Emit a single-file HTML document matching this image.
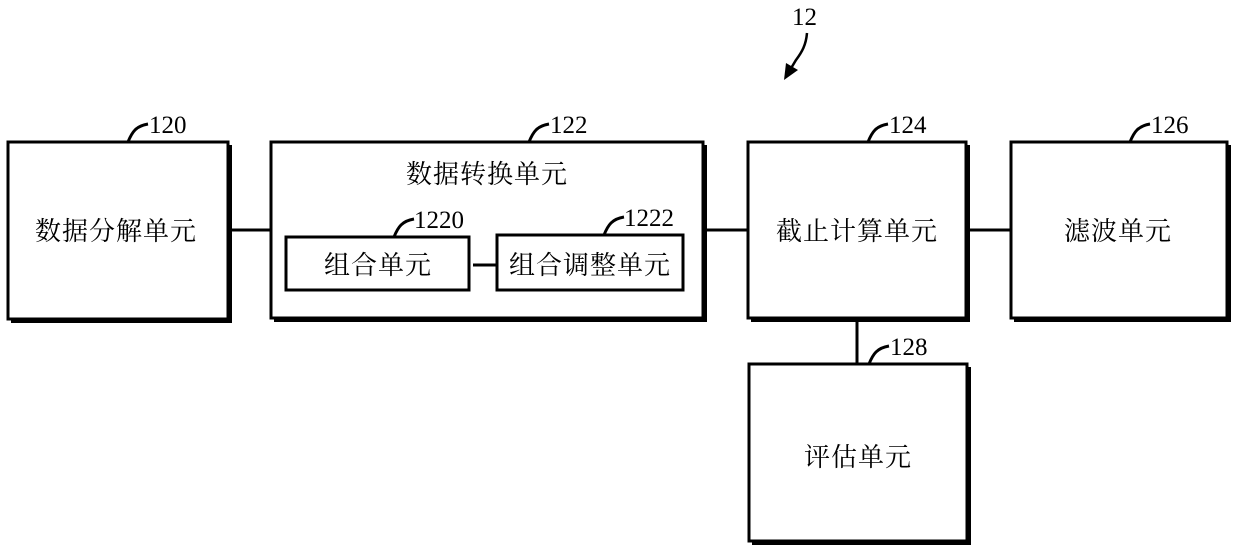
<!DOCTYPE html>
<html><head><meta charset="utf-8"><style>
html,body{margin:0;padding:0;background:#fff;width:1240px;height:550px;overflow:hidden}
svg text{font-family:"Liberation Serif","Noto Serif CJK SC","Noto Sans CJK SC",serif;fill:#000}
.cn{font-family:"Noto Serif CJK SC","Noto Sans CJK SC",serif;font-size:26px;letter-spacing:1px}
.num{font-size:25px}
</style></head><body>
<svg width="1240" height="550" viewBox="0 0 1240 550" xmlns="http://www.w3.org/2000/svg">
<g fill="#000">
<rect x="11" y="145" width="221" height="178"/>
<rect x="274" y="145" width="433" height="177"/>
<rect x="751" y="145" width="219" height="177"/>
<rect x="1014" y="145" width="217" height="177"/>
<rect x="752" y="367" width="219" height="178"/>
<rect x="289" y="240" width="184" height="54"/>
<rect x="500" y="238" width="187" height="56"/>
</g>
<g fill="#fff" stroke="#000" stroke-width="3">
<rect x="8" y="142" width="220" height="177"/>
<rect x="271" y="142" width="432" height="176"/>
<rect x="748" y="142" width="218" height="176"/>
<rect x="1011" y="142" width="216" height="176"/>
<rect x="749" y="364" width="218" height="177"/>
<rect x="286" y="237" width="183" height="53"/>
<rect x="497" y="235" width="186" height="55"/>
</g>
<g stroke="#000" stroke-width="3" fill="none">
<line x1="232" y1="230" x2="271" y2="230"/>
<line x1="707" y1="230" x2="748" y2="230"/>
<line x1="970" y1="230" x2="1011" y2="230"/>
<line x1="473" y1="265" x2="497" y2="265"/>
<line x1="857" y1="321" x2="857" y2="364"/>
<path d="M128 142 C132 132,136 126,148 124"/>
<path d="M529 142 C533 132,537 126,549 124"/>
<path d="M868 142 C872 132,876 126,888 124"/>
<path d="M1130 142 C1134 132,1138 126,1150 124"/>
<path d="M869 364 C873 354,877 348,889 346"/>
<path d="M394 237 C398 227,402 221,414 219"/>
<path d="M604 235 C608 225,612 219,624 217"/>
<path d="M807 33 C806 45,802 52,796 60 L790 70" stroke-width="2.5"/>
</g>
<polygon points="784,80 786,63 798,70" fill="#000"/>
<text x="792" y="25" class="num">12</text>
<text x="149" y="133" class="num">120</text>
<text x="550" y="133" class="num">122</text>
<text x="889" y="133" class="num">124</text>
<text x="1151" y="133" class="num">126</text>
<text x="890" y="355" class="num">128</text>
<text x="414" y="228" class="num">1220</text>
<text x="624" y="226" class="num">1222</text>
<text x="116" y="240" class="cn" text-anchor="middle">数据分解单元</text>
<text x="487" y="183" class="cn" text-anchor="middle">数据转换单元</text>
<text x="378" y="274" class="cn" text-anchor="middle">组合单元</text>
<text x="590" y="274" class="cn" text-anchor="middle">组合调整单元</text>
<text x="857" y="240" class="cn" text-anchor="middle">截止计算单元</text>
<text x="1118" y="240" class="cn" text-anchor="middle">滤波单元</text>
<text x="858" y="466" class="cn" text-anchor="middle">评估单元</text>
</svg>
</body></html>
